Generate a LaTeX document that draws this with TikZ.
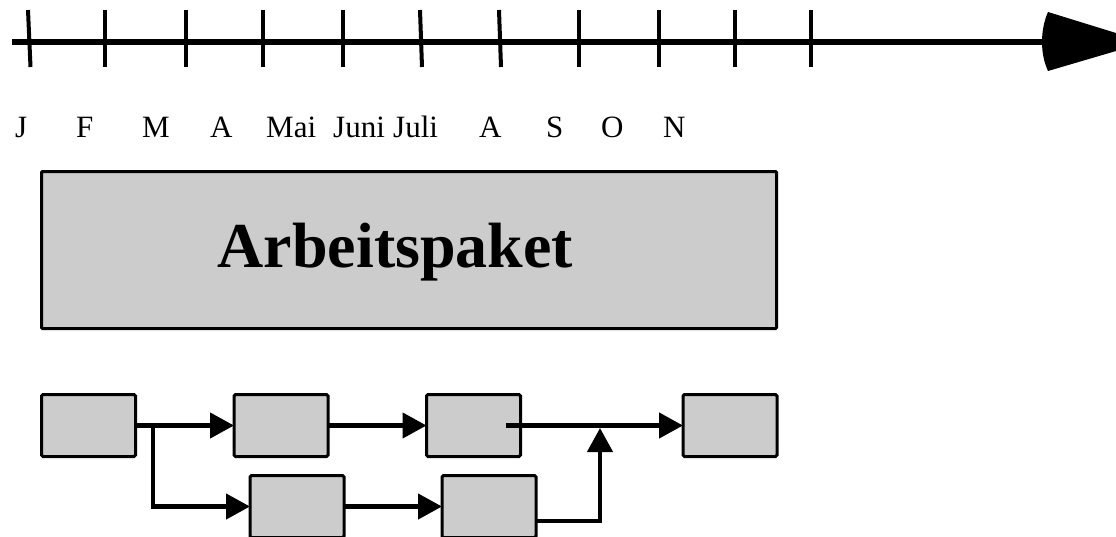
\documentclass[tikz,border=0pt]{standalone}
\usepackage{fontspec}
\setmainfont{Liberation Serif}
\usetikzlibrary{arrows.meta,calc}
\definecolor{boxgray}{RGB}{204,204,204}
\tikzset{
  smallbox/.style={draw=black, fill=boxgray, line width=3pt, rounded corners=1.5pt,
    minimum width=94pt, minimum height=62pt, inner sep=0pt, outer sep=0pt},
  bigbox/.style={draw=black, fill=boxgray, line width=3pt, rounded corners=1pt,
    minimum width=735pt, minimum height=157pt, inner sep=0pt, outer sep=0pt},
  conn/.style={line width=4.5pt, -{Triangle[length=24pt,width=25pt]}},
  tick/.style={line width=4pt},
  month/.style={anchor=base west, inner sep=0pt, font=\fontsize{31}{31}\selectfont},
}
\begin{document}
\begin{tikzpicture}[x=1pt,y=-1pt]
\useasboundingbox (0,0) rectangle (1116,536);
% timeline
\coordinate (tl0) at (12,42);
\coordinate (tl1) at (1046,42);
\draw[line width=5.5pt] (tl0) -- (tl1);
\fill (1048,12) .. controls (1040,30) and (1040,54) .. (1048,71) -- (1116,51) -- (1116,33) -- cycle;
\draw[tick] (28,10) -- (30.5,67);
\foreach \x in {105,186,263,343,579,659,735,811}{
  \draw[tick] (\x,10) -- (\x,67);
}
\draw[tick] (420,10) -- (422,67);
\draw[tick] (499,10) -- (501,67);
% month labels
\node[month] (mJ)  at (15,137)  {J};
\node[month] (mF)  at (76,137)  {F};
\node[month] (mM)  at (142,137) {M};
\node[month] (mA)  at (210,137) {A};
\node[month] (mMai) at (266,137) {Mai};
\node[month] (mJun) at (333,137) {Juni};
\node[month] (mJul) at (393,137) {Juli};
\node[month] (mA2) at (479,137) {A};
\node[month] (mS)  at (546,137) {S};
\node[month] (mO)  at (601,137) {O};
\node[month] (mN)  at (663,137) {N};
% big box
\node[bigbox] (ap) at (409,250) {};
\node[anchor=base, inner sep=0pt, font=\fontsize{64}{64}\selectfont\bfseries] (aptext) at (395.5,267) {Arbeitspaket};
% small boxes
\node[smallbox] (b1) at (88.5,425.5) {};
\node[smallbox] (b2) at (281,425.5) {};
\node[smallbox] (b3) at (473.5,425.5) {};
\node[smallbox] (b6) at (730,425.5) {};
\node[smallbox] (b4) at (297,506.5) {};
\node[smallbox] (b5) at (489,506.5) {};
% connectors
\coordinate (br) at (153,425.5);
\coordinate (b3s) at (506,425.5);
\coordinate (b5s) at (537,521);
\coordinate (join) at (600,428);
\draw[conn] (b1.east) -- (b2.west);
\draw[conn] (br) |- (b4.west);
\draw[conn] (b2.east) -- (b3.west);
\draw[conn] (b3s) -- (b6.west);
\draw[conn] (b4.east) -- (b5.west);
\draw[conn] (b5s) -| (join);
\end{tikzpicture}
\end{document}
